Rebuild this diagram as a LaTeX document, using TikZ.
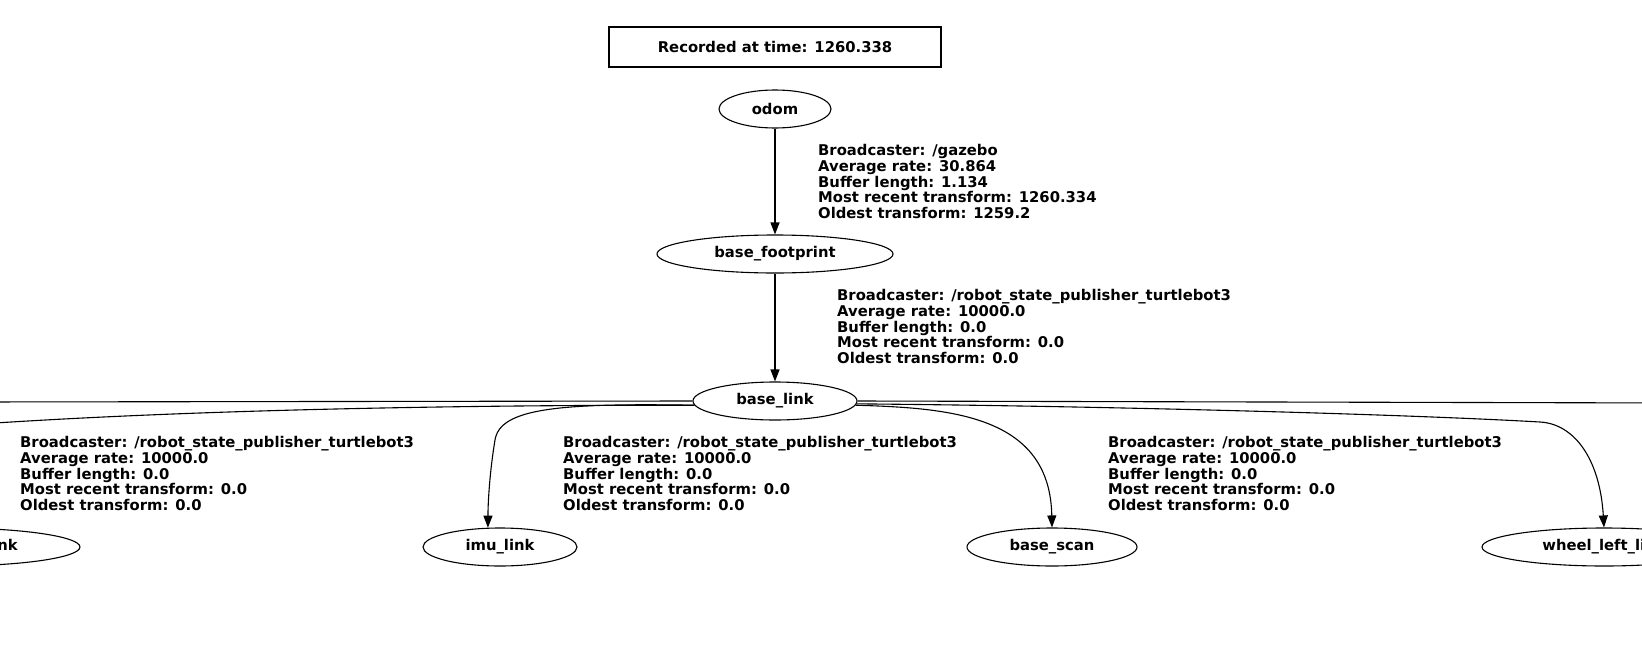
\documentclass[tikz,border=0pt]{standalone}
\usepackage{fontspec}
\setmainfont{DejaVu Sans}
\usetikzlibrary{shapes.geometric,arrows.meta}
\begin{document}
\begin{tikzpicture}[x=1pt,y=-1pt,
  gv/.style={font=\bfseries\fontsize{14.8}{15.8}\selectfont},
  tfnode/.style={gv, draw, ellipse, inner sep=0pt, line width=1.1pt, minimum height=38pt},
  lbl/.style={gv, anchor=north west, inner sep=0pt, align=left},
  tfedge/.style={draw, line width=1.1pt, -{Triangle[length=12pt,width=9pt]}},
  plainedge/.style={draw, line width=1.1pt}]
\path[use as bounding box, fill=white] (0,0) rectangle (1642,648);
\clip (0,0) rectangle (1642,648);

% nodes
\node[gv, draw, rectangle, minimum width=332pt, minimum height=40pt, line width=1.1pt] (rec) at (775,47) {Recorded at time: 1260.338};
\node[tfnode, minimum width=112pt] (odom) at (775,109) {odom};
\node[tfnode, minimum width=236pt] (fp) at (775,254) {base\_footprint};
\node[tfnode, minimum width=164pt] (bl) at (775,401) {base\_link};
\node[tfnode, minimum width=260pt] (wr) at (-50,547) {wheel\_right\_link};
\node[tfnode, minimum width=154pt] (imu) at (500,547) {imu\_link};
\node[tfnode, minimum width=170pt] (scan) at (1052,547) {base\_scan};
\node[tfnode, minimum width=244pt] (wl) at (1604,547) {wheel\_left\_link};
\coordinate (farL) at (-30,402);
\coordinate (farR) at (1680,403);

% labels
\node[lbl] (l1) at (818,144) {Broadcaster: /gazebo\\Average rate: 30.864\\Buffer length: 1.134\\Most recent transform: 1260.334\\Oldest transform: 1259.2};
\node[lbl] (l2) at (837,289) {Broadcaster: /robot\_state\_publisher\_turtlebot3\\Average rate: 10000.0\\Buffer length: 0.0\\Most recent transform: 0.0\\Oldest transform: 0.0};
\node[lbl] (l3) at (20,436) {Broadcaster: /robot\_state\_publisher\_turtlebot3\\Average rate: 10000.0\\Buffer length: 0.0\\Most recent transform: 0.0\\Oldest transform: 0.0};
\node[lbl] (l4) at (563,436) {Broadcaster: /robot\_state\_publisher\_turtlebot3\\Average rate: 10000.0\\Buffer length: 0.0\\Most recent transform: 0.0\\Oldest transform: 0.0};
\node[lbl] (l5) at (1108,436) {Broadcaster: /robot\_state\_publisher\_turtlebot3\\Average rate: 10000.0\\Buffer length: 0.0\\Most recent transform: 0.0\\Oldest transform: 0.0};

% edges
\draw[tfedge] (odom) -- (fp);
\draw[tfedge] (fp) -- (bl);
\draw[plainedge] (bl.west) -- (farL);
\draw[plainedge] (bl.east) -- (farR);
\draw[tfedge] (bl.183) .. controls (450,405) and (200,410) .. (0,422.7) .. controls (-40,425.2) and (-50,470) .. (wr.north);
\draw[tfedge] (bl.183) .. controls (560,403) and (500,408) .. (495,440) .. controls (490,470) and (488,500) .. (imu.122);
\draw[tfedge] (bl.357) .. controls (950,408) and (1050,415) .. (scan.north);
\draw[tfedge] (bl.358) .. controls (1100,406) and (1400,414) .. (1540,422) .. controls (1575,424) and (1600,460) .. (wl.north);
\end{tikzpicture}
\end{document}
